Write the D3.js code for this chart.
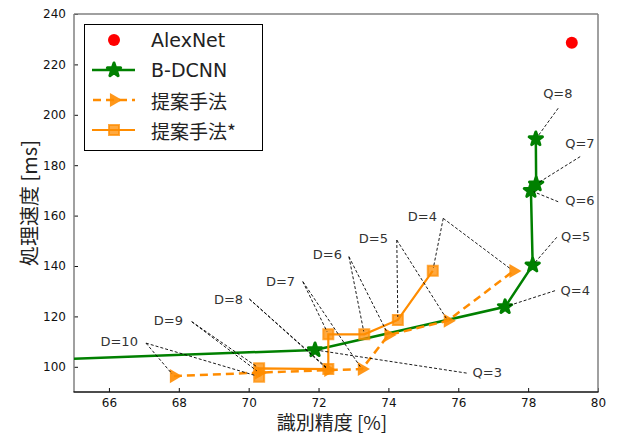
<!DOCTYPE html>
<html><head><meta charset="utf-8">
<script src="https://cdn.jsdelivr.net/npm/d3@7"></script>
<style>body{margin:0;background:#fff}svg{display:block}</style>
</head><body>
<svg id="chart" width="619" height="437"></svg>
<script>
// ---- data ----
const xTicks = [66, 68, 70, 72, 74, 76, 78, 80];
const yTicks = [100, 120, 140, 160, 180, 200, 220, 240];
const alexX = [79.25];
const alexY = [228.6];
const bdcnnQ = ["Q=2", "Q=3", "Q=4", "Q=5", "Q=6", "Q=7", "Q=8"];
const bdcnnX = [60.0, 71.9, 77.34, 78.13, 78.08, 78.23, 78.22];
const bdcnnY = [100.7, 106.7, 123.8, 140.3, 169.9, 172.5, 190.4];
const propD = ["D=10", "D=9", "D=8", "D=7", "D=6", "D=5", "D=4"];
const propX = [67.86, 70.3, 72.28, 73.24, 74.0, 75.7, 77.58];
const propY = [96.3, 97.7, 98.7, 99.1, 112.6, 118.3, 138.0];
const starX = [70.3, 70.3, 72.28, 72.28, 73.31, 74.27, 75.27];
const starY = [96.1, 99.4, 99.1, 112.9, 112.9, 118.6, 138.1];
// annotation text anchor (data coords) and line start (data coords)
const qLabels = ["Q=3", "Q=4", "Q=5", "Q=6", "Q=7", "Q=8"];
const qTextX = [76.41, 78.93, 78.94, 79.06, 79.06, 78.43];
const qTextY = [97.7, 130.2, 151.6, 165.9, 188.7, 208.3];
const qStartX = [76.24, 78.77, 78.82, 78.86, 79.49, 78.86];
const qStartY = [97.5, 130.2, 151.4, 165.5, 183.4, 202.6];
const dLabels = ["D=10", "D=9", "D=8", "D=7", "D=6", "D=5", "D=4"];
const dTextX = [66.83, 68.12, 69.84, 71.33, 72.67, 73.99, 75.39];
const dTextY = [110.0, 118.3, 126.9, 134.0, 144.4, 151.0, 159.6];
const dStartX = [67.06, 68.37, 70.02, 71.55, 72.87, 74.24, 75.57];
const dStartY = [109.4, 117.9, 126.9, 133.8, 143.7, 150.3, 158.9];
const legendNames = ["AlexNet", "B-DCNN", "提案手法", "提案手法*"];

// ---- layout ----
const W = 619, H = 437;
const M = {l: 74, t: 14, r: 21, b: 45};
const svg = d3.select("#chart");
const x = d3.scaleLinear().domain([65, 80]).range([M.l, W - M.r]);
const y = d3.scaleLinear().domain([90, 240]).range([H - M.b, M.t]);
const GREEN = "#008000", ORANGE = "#ff8c00";
const latin = "'DejaVu Sans', 'Noto Sans CJK JP', sans-serif";
const cjk = "'Noto Sans CJK JP', 'DejaVu Sans', sans-serif";

svg.append("defs").append("clipPath").attr("id", "clip")
  .append("rect").attr("x", M.l).attr("y", M.t)
  .attr("width", W - M.l - M.r).attr("height", H - M.t - M.b);

// axes
const xAxis = svg.append("g").attr("transform", `translate(0,${H - M.b})`)
  .call(d3.axisBottom(x).tickValues(xTicks).tickSizeInner(-4).tickSizeOuter(0).tickPadding(6));
const yAxis = svg.append("g").attr("transform", `translate(${M.l},0)`)
  .call(d3.axisLeft(y).tickValues(yTicks).tickSizeInner(-4).tickSizeOuter(0).tickPadding(8));
[xAxis, yAxis].forEach(g => {
  g.select(".domain").remove();
  g.selectAll("text").attr("font-family", latin).attr("font-size", 12).attr("fill", "#111");
  g.selectAll("line").attr("stroke", "#111");
});
// spines
svg.append("line").attr("x1", M.l).attr("x2", M.l).attr("y1", M.t).attr("y2", H - M.b).attr("stroke", "#808080").attr("stroke-width", 1.5);
svg.append("line").attr("x1", M.l).attr("x2", W - M.r).attr("y1", M.t).attr("y2", M.t).attr("stroke", "#808080").attr("stroke-width", 1.5);
svg.append("line").attr("x1", W - M.r).attr("x2", W - M.r).attr("y1", M.t).attr("y2", H - M.b).attr("stroke", "#808080").attr("stroke-width", 1.5);
svg.append("line").attr("x1", M.l - 0.5).attr("x2", W - M.r + 0.5).attr("y1", H - M.b).attr("y2", H - M.b).attr("stroke", "#111").attr("stroke-width", 1.5);

// axis titles
svg.append("text").attr("x", (M.l + W - M.r) / 2 - 4).attr("y", 430)
  .attr("text-anchor", "middle")
  .attr("font-family", cjk).attr("font-size", 19).attr("fill", "#222").text("識別精度 [%]");
svg.append("text").attr("transform", `translate(28,${(M.t + H - M.b) / 2}) rotate(-90)`)
  .attr("text-anchor", "middle").attr("dominant-baseline", "central")
  .attr("font-family", cjk).attr("font-size", 20).attr("fill", "#222").text("処理速度 [ms]");

const plot = svg.append("g").attr("clip-path", "url(#clip)");
const line = d3.line().x(d => x(d[0])).y(d => y(d[1]));
const zip = (a, b) => a.map((v, i) => [v, b[i]]);

// annotations
const ann = svg.append("g");
qLabels.forEach((t, i) => {
  const ti = i + 1;
  const sx = x(qStartX[i]), sy = y(qStartY[i]);
  const tx = x(bdcnnX[ti]), ty = y(bdcnnY[ti]);
  const L = Math.hypot(tx - sx, ty - sy), s = 3 / L;
  ann.append("line").attr("x1", sx).attr("y1", sy).attr("x2", tx - (tx - sx) * s).attr("y2", ty - (ty - sy) * s)
    .attr("stroke", "#000").attr("stroke-width", 0.9).attr("stroke-dasharray", "3,2");
  ann.append("text").attr("x", x(qTextX[i])).attr("y", y(qTextY[i])).attr("dominant-baseline", "central")
    .attr("font-family", latin).attr("font-size", 13).attr("fill", "#333").text(t);
});
dLabels.forEach((t, i) => {
  const sx = x(dStartX[i]), sy = y(dStartY[i]);
  [[propX[i], propY[i]], [starX[i], starY[i]]].forEach(p => {
    const tx = x(p[0]), ty = y(p[1]);
    const L = Math.hypot(tx - sx, ty - sy), s = 3 / L;
    ann.append("line").attr("x1", sx).attr("y1", sy).attr("x2", tx - (tx - sx) * s).attr("y2", ty - (ty - sy) * s)
      .attr("stroke", "#000").attr("stroke-width", 0.9).attr("stroke-dasharray", "3,2");
  });
  ann.append("text").attr("x", x(dTextX[i])).attr("y", y(dTextY[i])).attr("dominant-baseline", "central")
    .attr("text-anchor", "end")
    .attr("font-family", latin).attr("font-size", 13).attr("fill", "#333").text(t);
});

// series
const starSym = d3.symbol().type(d3.symbolStar).size(55);
const triSym = d3.symbol().type(d3.symbolTriangle).size(85);
const sqSym = d3.symbol().type(d3.symbolSquare).size(100);

plot.append("path").attr("d", line(zip(bdcnnX, bdcnnY))).attr("fill", "none")
  .attr("stroke", GREEN).attr("stroke-width", 2.5);
plot.selectAll(".st").data(zip(bdcnnX, bdcnnY)).join("path")
  .attr("d", starSym).attr("transform", d => `translate(${x(d[0])},${y(d[1])})`)
  .attr("fill", GREEN).attr("stroke", GREEN).attr("stroke-width", 3).attr("stroke-linejoin", "round");

plot.append("path").attr("d", line(zip(propX, propY))).attr("fill", "none")
  .attr("stroke", ORANGE).attr("stroke-width", 2.5).attr("stroke-dasharray", "8,5");
plot.selectAll(".tr").data(zip(propX, propY)).join("path")
  .attr("d", triSym).attr("transform", d => `translate(${x(d[0])},${y(d[1])}) rotate(90)`)
  .attr("fill", ORANGE).attr("opacity", 0.9);

plot.append("path").attr("d", line(zip(starX, starY))).attr("fill", "none")
  .attr("stroke", ORANGE).attr("stroke-width", 2.2);
plot.selectAll(".sq").data(zip(starX, starY)).join("path")
  .attr("d", sqSym).attr("transform", d => `translate(${x(d[0])},${y(d[1])})`)
  .attr("fill", ORANGE).attr("fill-opacity", 0.75).attr("stroke", ORANGE).attr("stroke-opacity", 0.75).attr("stroke-width", 2);

plot.selectAll(".ax").data(zip(alexX, alexY)).join("circle")
  .attr("cx", d => x(d[0])).attr("cy", d => y(d[1])).attr("r", 6).attr("fill", "#ff0000");

// legend
const lg = svg.append("g");
lg.append("rect").attr("x", 84.5).attr("y", 24.5).attr("width", 178).attr("height", 126)
  .attr("fill", "#fff").attr("stroke", "#000").attr("stroke-width", 1);
const rowY = i => 40 + i * 30;
const hx1 = 92, hx2 = 135, hm = 114;
lg.append("circle").attr("cx", hm).attr("cy", rowY(0)).attr("r", 6).attr("fill", "#ff0000");
lg.append("line").attr("x1", hx1).attr("x2", hx2).attr("y1", rowY(1)).attr("y2", rowY(1)).attr("stroke", GREEN).attr("stroke-width", 2.5);
lg.append("path").attr("d", starSym).attr("transform", `translate(${hm},${rowY(1)})`).attr("fill", GREEN).attr("stroke", GREEN).attr("stroke-width", 3).attr("stroke-linejoin", "round");
lg.append("line").attr("x1", hx1).attr("x2", hx2).attr("y1", rowY(2)).attr("y2", rowY(2)).attr("stroke", ORANGE).attr("stroke-width", 2.5).attr("stroke-dasharray", "8,5").attr("stroke-dashoffset", -1);
lg.append("path").attr("d", triSym).attr("transform", `translate(${hm},${rowY(2)}) rotate(90)`).attr("fill", ORANGE).attr("opacity", 0.9);
lg.append("line").attr("x1", hx1).attr("x2", hx2).attr("y1", rowY(3)).attr("y2", rowY(3)).attr("stroke", ORANGE).attr("stroke-width", 2.2);
lg.append("path").attr("d", sqSym).attr("transform", `translate(${hm},${rowY(3)})`).attr("fill", ORANGE).attr("fill-opacity", 0.75).attr("stroke", ORANGE).attr("stroke-opacity", 0.75).attr("stroke-width", 2);
legendNames.forEach((n, i) => {
  lg.append("text").attr("x", 151).attr("y", rowY(i)).attr("dominant-baseline", "central")
    .attr("font-family", i === 1 || i === 0 ? latin : cjk).attr("font-size", 19).attr("fill", "#222").text(n);
});
</script>
</body></html>
